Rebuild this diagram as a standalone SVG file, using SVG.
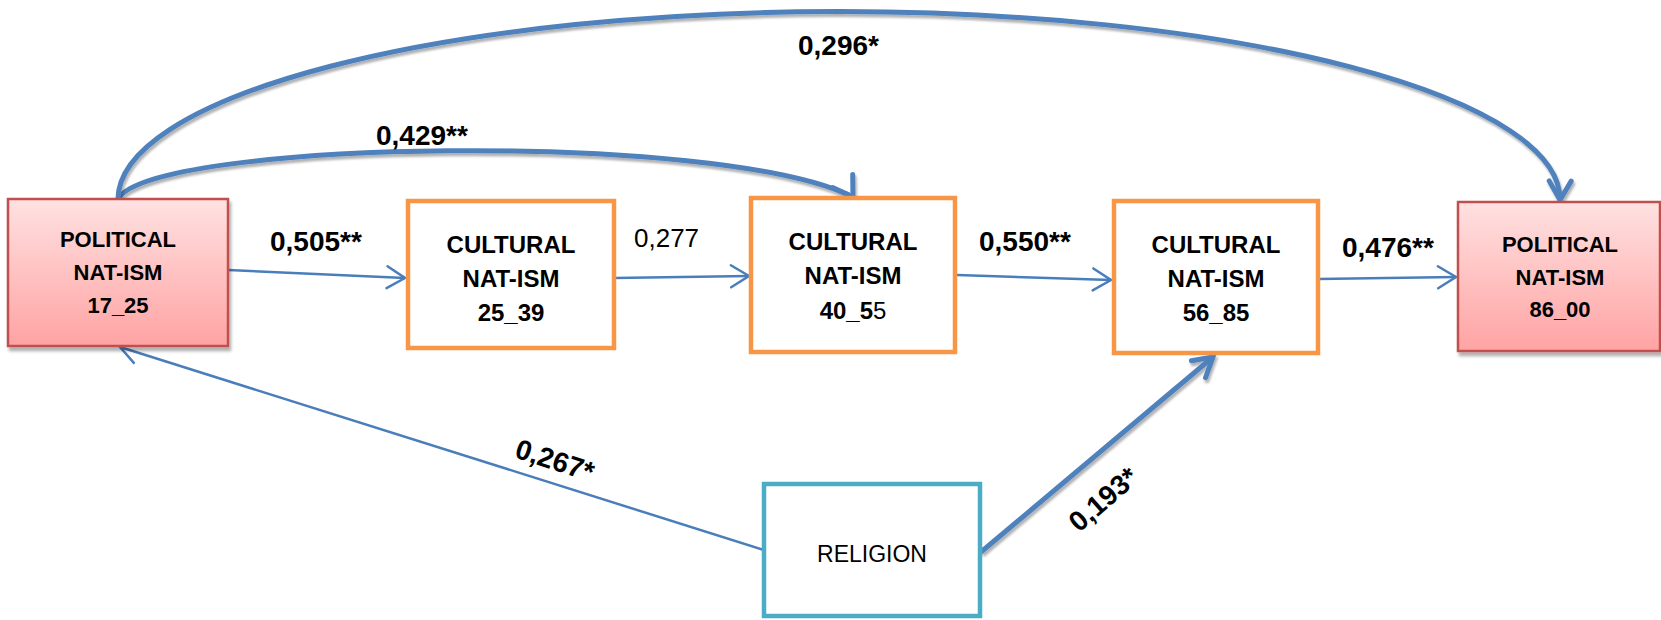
<svg xmlns="http://www.w3.org/2000/svg" width="1661" height="620" viewBox="0 0 1661 620">
  <style>
    .pol { stroke: #C0504D; stroke-width: 2.5; fill: url(#polGrad); }
    .cul { stroke: #F79646; stroke-width: 4.5; fill: #FFFFFF; }
    .rel { stroke: #4BACC6; stroke-width: 4.5; fill: #FFFFFF; }
    .ntxt { font-family: "Liberation Sans", Arial, sans-serif; font-weight: bold; fill: #000; text-anchor: middle; }
    .pt { font-size: 22px; }
    .ct { font-size: 24px; }
    .rt { font-family: "Liberation Sans", Arial, sans-serif; font-size: 23px; fill: #000; text-anchor: middle; }
    .lbl { font-family: "Liberation Sans", Arial, sans-serif; font-weight: bold; font-size: 28px; fill: #000; }
    .lblr { font-family: "Liberation Sans", Arial, sans-serif; font-size: 26px; fill: #000; }
    .thin { stroke: #4A7EBB; stroke-width: 2.5; fill: none; marker-end: url(#headThin); }
    .thick { stroke: #4F81BD; stroke-width: 5; fill: none; filter: url(#lineShadow); }
  </style>
  <defs>
    <linearGradient id="polGrad" x1="0" y1="0" x2="0" y2="1">
      <stop offset="0" stop-color="#FFE1E1"/>
      <stop offset="1" stop-color="#FFA3A3"/>
    </linearGradient>
    <filter id="boxShadow" x="-10%" y="-10%" width="130%" height="130%">
      <feDropShadow dx="2" dy="4" stdDeviation="1.5" flood-color="#000" flood-opacity="0.3"/>
    </filter>
    <filter id="lineShadow" x="-10%" y="-10%" width="120%" height="130%">
      <feDropShadow dx="1.5" dy="3" stdDeviation="1.2" flood-color="#000" flood-opacity="0.3"/>
    </filter>
    <marker id="headThin" markerUnits="userSpaceOnUse" markerWidth="24" markerHeight="24" refX="20" refY="12" orient="auto" overflow="visible">
      <path d="M2,1 L20,12 L2,23" fill="none" stroke="#4A7EBB" stroke-width="2.5" stroke-linecap="round" stroke-linejoin="miter"/>
    </marker>
    <marker id="headThick" markerUnits="userSpaceOnUse" markerWidth="30" markerHeight="30" refX="22" refY="14" orient="auto" overflow="visible">
      <path d="M3,3 L22,14 L3,25" fill="none" stroke="#4F81BD" stroke-width="5" stroke-linecap="round" stroke-linejoin="miter"/>
    </marker>
    <marker id="headThickFixed" markerUnits="userSpaceOnUse" markerWidth="30" markerHeight="30" refX="22" refY="14" orient="57" overflow="visible">
      <path d="M3,2 L22,14 L3,26" fill="none" stroke="#4F81BD" stroke-width="5" stroke-linecap="round" stroke-linejoin="miter"/>
    </marker>
  </defs>

  <g id="connectors">
    <path id="c-429" class="thick" d="M118,199 C150,140 720,130 853,197" marker-end="url(#headThickFixed)"/>
    <path id="c-296" class="thick" d="M118,199 A721,188 0 0 1 1560,200" marker-end="url(#headThick)"/>
    <path id="c-505" class="thin" d="M228,270 L405,278"/>
    <path id="c-277" class="thin" d="M614,278 L749,276"/>
    <path id="c-550" class="thin" d="M957,275 L1111,280"/>
    <path id="c-476" class="thin" d="M1318,279 L1456,277"/>
    <path id="c-267" class="thin" d="M764,550 L120,347"/>
    <path id="c-193" class="thick" d="M981,552 L1213,357" marker-end="url(#headThick)"/>
  </g>

  <g id="node-pol-17-25">
    <rect class="pol" x="8" y="199" width="220" height="147" filter="url(#boxShadow)"/>
    <text class="ntxt pt" x="118" y="247">POLITICAL</text>
    <text class="ntxt pt" x="118" y="280">NAT-ISM</text>
    <text class="ntxt pt" x="118" y="313">17_25</text>
  </g>

  <g id="node-cul-25-39">
    <rect class="cul" x="408" y="201" width="206" height="147"/>
    <text class="ntxt ct" x="511" y="253">CULTURAL</text>
    <text class="ntxt ct" x="511" y="287">NAT-ISM</text>
    <text class="ntxt ct" x="511" y="321">25_39</text>
  </g>

  <g id="node-cul-40-55">
    <rect class="cul" x="751" y="198" width="204" height="154"/>
    <text class="ntxt ct" x="853" y="250">CULTURAL</text>
    <text class="ntxt ct" x="853" y="284">NAT-ISM</text>
    <text class="ntxt ct" x="853" y="319">40_5<tspan font-weight="normal">5</tspan></text>
  </g>

  <g id="node-cul-56-85">
    <rect class="cul" x="1114" y="201" width="204" height="152"/>
    <text class="ntxt ct" x="1216" y="253">CULTURAL</text>
    <text class="ntxt ct" x="1216" y="287">NAT-ISM</text>
    <text class="ntxt ct" x="1216" y="321">56_85</text>
  </g>

  <g id="node-pol-86-00">
    <rect class="pol" x="1458" y="202" width="202" height="149" filter="url(#boxShadow)"/>
    <text class="ntxt pt" x="1560" y="252">POLITICAL</text>
    <text class="ntxt pt" x="1560" y="285">NAT-ISM</text>
    <text class="ntxt pt" x="1560" y="317">86_00</text>
  </g>

  <g id="node-religion">
    <rect class="rel" x="764" y="484" width="216" height="132"/>
    <text class="rt" x="872" y="562">RELIGION</text>
  </g>

  <g id="labels">
    <text class="lbl" x="270" y="251">0,505**</text>
    <text class="lblr" x="634" y="247">0,277</text>
    <text class="lbl" x="979" y="251">0,550**</text>
    <text class="lbl" x="1342" y="257">0,476**</text>
    <text class="lbl" x="376" y="145">0,429**</text>
    <text class="lbl" x="798" y="55">0,296*</text>
    <text class="lbl" text-anchor="middle" transform="translate(555,460) rotate(18)" y="10">0,267*</text>
    <text class="lbl" text-anchor="middle" transform="translate(1103,499) rotate(-41)" y="10">0,193*</text>
  </g>
</svg>
